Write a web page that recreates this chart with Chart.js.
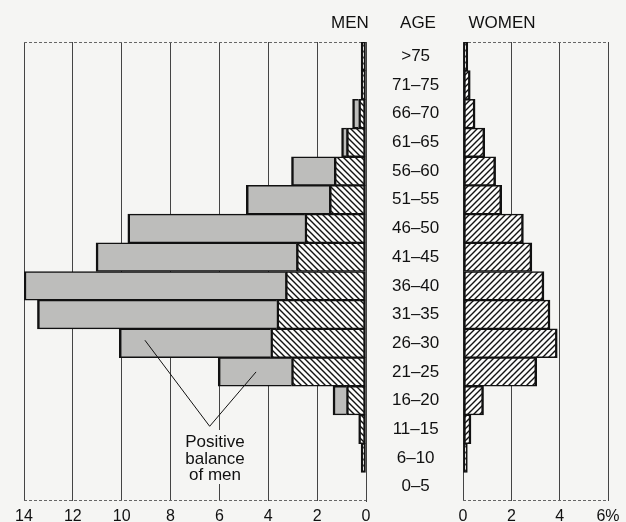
<!DOCTYPE html>
<html>
<head>
<meta charset="utf-8">
<script src="https://cdn.jsdelivr.net/npm/chart.js@4.4.1/dist/chart.umd.min.js"></script>
<style>
  html, body { margin: 0; padding: 0; background: #f5f5f3; }
  #wrap { position: relative; width: 626px; height: 522px; }
  canvas { position: absolute; left: 0; top: 0; }
</style>
</head>
<body>
<div id="wrap">
  <canvas id="men" width="626" height="522"></canvas>
  <canvas id="women" width="626" height="522"></canvas>
</div>
<script>
// age groups, oldest at the top
const ageGroups = ['>75', '71–75', '66–70', '61–65', '56–60', '51–55', '46–50', '41–45',
                   '36–40', '31–35', '26–30', '21–25', '16–20', '11–15', '6–10', '0–5'];

// men: part matched by women (hatched) + positive balance of men (grey), in %
const menBase    = [0.2, 0.2, 0.3, 0.8, 1.3, 1.5, 2.5, 2.85, 3.3, 3.65, 3.9, 3.05, 0.8, 0.3, 0.2, 0];
const menSurplus = [0, 0, 0.25, 0.2, 1.75, 3.4, 7.25, 8.2, 10.7, 9.8, 6.2, 3.0, 0.55, 0, 0, 0];

// women, in %
const women = [0.2, 0.3, 0.5, 0.9, 1.35, 1.6, 2.5, 2.85, 3.35, 3.6, 3.9, 3.05, 0.85, 0.33, 0.18, 0];

const menMax = 14;
const womenMax = 6;

Chart.defaults.font.family = "'Liberation Sans', Arial, sans-serif";
Chart.defaults.font.size = 16;
Chart.defaults.color = '#111';

const pageBg = '#f5f5f3';
const ink = '#111';

// diagonal hatch fill, dir 1 = "/", -1 = "\"
function hatch(dir) {
    const s = 6;
    const c = document.createElement('canvas');
    c.width = s; c.height = s;
    const g = c.getContext('2d');
    g.fillStyle = '#fcfcfb';
    g.fillRect(0, 0, s, s);
    g.strokeStyle = ink;
    g.lineWidth = 1.4;
    g.beginPath();
    if (dir > 0) {
        g.moveTo(0, s); g.lineTo(s, 0);
        g.moveTo(-1, 1); g.lineTo(1, -1);
        g.moveTo(s - 1, s + 1); g.lineTo(s + 1, s - 1);
    } else {
        g.moveTo(0, 0); g.lineTo(s, s);
        g.moveTo(-1, s - 1); g.lineTo(1, s + 1);
        g.moveTo(s - 1, -1); g.lineTo(s + 1, 1);
    }
    g.stroke();
    return g.createPattern(c, 'repeat');
}

// dashed top and bottom border of the plot area
const frame = {
    id: 'frame',
    beforeDatasetsDraw(chart) {
        const a = chart.chartArea, ctx = chart.ctx;
        ctx.save();
        ctx.strokeStyle = '#666';
        ctx.lineWidth = 1;
        ctx.setLineDash([3, 2]);
        ctx.beginPath();
        ctx.moveTo(a.left, a.top + 0.5);
        ctx.lineTo(a.right, a.top + 0.5);
        ctx.moveTo(a.left, a.bottom - 0.5);
        ctx.lineTo(a.right, a.bottom - 0.5);
        ctx.stroke();
        ctx.restore();
    }
};

// headers and the "positive balance" note
const menNotes = {
    id: 'menNotes',
    afterDatasetsDraw(chart) {
        const ctx = chart.ctx;
        const x = chart.scales.x, y = chart.scales.y;
        ctx.save();
        ctx.fillStyle = ink;
        ctx.font = "17px 'Liberation Sans', Arial, sans-serif";
        ctx.textAlign = 'center';
        ctx.textBaseline = 'middle';
        ctx.fillText('MEN', 350, 23);
        ctx.fillText('AGE', 418, 23);
        ctx.fillText('WOMEN', 502, 23);

        // text box hides the grid line behind it
        ctx.fillStyle = pageBg;
        ctx.fillRect(178, 430, 76, 54);

        const ax = x.getPixelForValue(6.4), ay = y.getPixelForValue(13) - 3;
        ctx.strokeStyle = ink;
        ctx.lineWidth = 1;
        ctx.beginPath();
        ctx.moveTo(x.getPixelForValue(9.05), y.getPixelForValue(10) - 3);
        ctx.lineTo(ax, ay);
        ctx.lineTo(x.getPixelForValue(4.5), y.getPixelForValue(11));
        ctx.stroke();

        ctx.fillStyle = ink;
        ctx.textBaseline = 'alphabetic';
        ctx.fillText('Positive', 215, 447);
        ctx.fillText('balance', 215, 463.5);
        ctx.fillText('of men', 215, 480);
        ctx.restore();
    }
};

const gridStyle = { color: '#444', lineWidth: 1, drawTicks: false };
const barBorder = { top: 1.5, bottom: 1.5, left: 2.5, right: 2.5 };

new Chart(document.getElementById('men'), {
    type: 'bar',
    data: {
        labels: ageGroups,
        datasets: [{
            label: 'Men',
            data: menBase,
            backgroundColor: hatch(-1),
            borderColor: ink,
            borderWidth: barBorder,
            borderSkipped: false
        }, {
            label: 'Positive balance of men',
            data: menSurplus,
            backgroundColor: '#bdbdbb',
            borderColor: ink,
            borderWidth: barBorder,
            borderSkipped: 'start'
        }]
    },
    options: {
        indexAxis: 'y',
        responsive: false,
        animation: false,
        layout: { padding: { left: 24, right: 163, top: 42, bottom: 0 } },
        datasets: { bar: { barPercentage: 1, categoryPercentage: 1 } },
        plugins: { legend: { display: false }, tooltip: { enabled: false } },
        scales: {
            x: {
                type: 'linear',
                reverse: true,
                stacked: true,
                min: 0,
                max: menMax,
                ticks: { stepSize: 2, padding: 6, maxRotation: 0 },
                grid: gridStyle,
                border: { display: false },
                afterFit(s) { s.height = 21; s.paddingLeft = 0; s.paddingRight = 0; }
            },
            y: {
                position: 'right',
                stacked: true,
                grid: { display: false, drawTicks: false },
                border: { display: true, color: '#444', width: 1 },
                ticks: { crossAlign: 'center', padding: 26, font: { size: 17 } },
                afterFit(s) { s.width = 97; s.paddingTop = 0; s.paddingBottom = 0; }
            }
        }
    },
    plugins: [frame, menNotes]
});

new Chart(document.getElementById('women'), {
    type: 'bar',
    data: {
        labels: ageGroups,
        datasets: [{
            label: 'Women',
            data: women,
            backgroundColor: hatch(1),
            borderColor: ink,
            borderWidth: barBorder,
            borderSkipped: false
        }]
    },
    options: {
        indexAxis: 'y',
        responsive: false,
        animation: false,
        layout: { padding: { left: 463, right: 18, top: 42, bottom: 0 } },
        datasets: { bar: { barPercentage: 1, categoryPercentage: 1 } },
        plugins: { legend: { display: false }, tooltip: { enabled: false } },
        scales: {
            x: {
                type: 'linear',
                min: 0,
                max: womenMax,
                ticks: {
                    stepSize: 2, padding: 6, maxRotation: 0,
                    callback: v => v === womenMax ? v + '%' : v
                },
                grid: gridStyle,
                border: { display: false },
                afterFit(s) { s.height = 21; s.paddingLeft = 0; s.paddingRight = 0; }
            },
            y: { display: false }
        }
    },
    plugins: [frame]
});
</script>
</body>
</html>
